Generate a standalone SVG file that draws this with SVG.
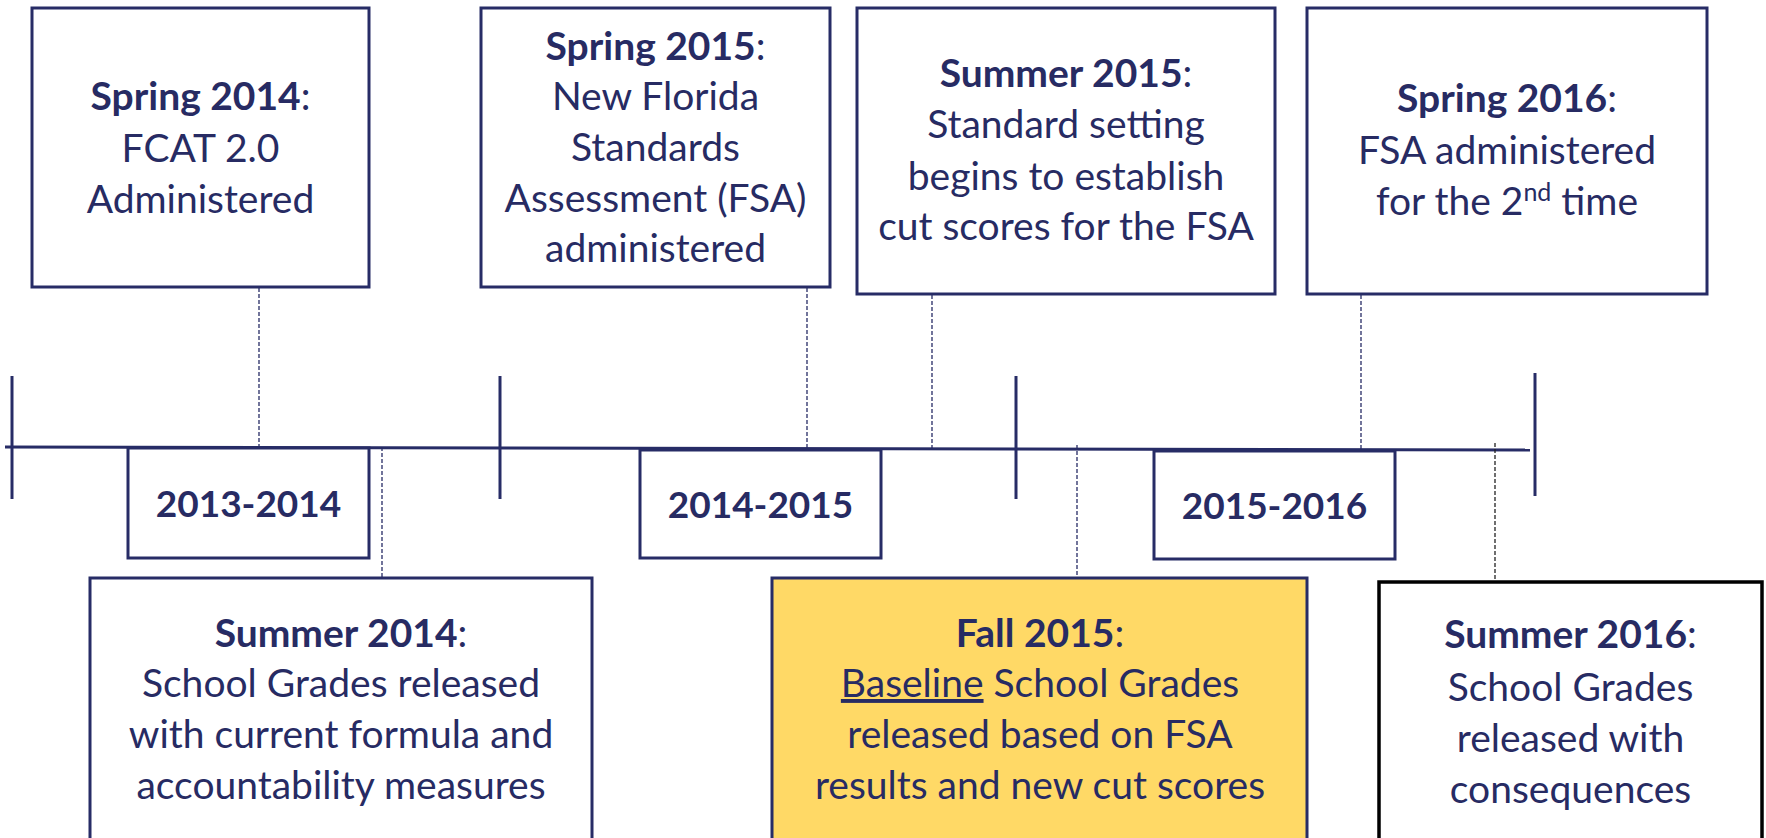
<svg xmlns="http://www.w3.org/2000/svg" width="1766" height="838" viewBox="0 0 1766 838">
  <style>
    .box { fill: #ffffff; stroke: #272c66; stroke-width: 3; }
    .gold { fill: #ffd966; stroke: #272c66; stroke-width: 3; }
    .dark { fill: #ffffff; stroke: #000000; stroke-width: 3.5; }
    .axis { stroke: #272c66; stroke-width: 3; fill: none; }
    .lead { stroke: #272c66; stroke-width: 1.3; stroke-dasharray: 4 2; fill: none; }
    .lead-dark { stroke: #222222; stroke-width: 1.3; stroke-dasharray: 4 2; fill: none; }
    text { font-family: Lato, "Open Sans", "Liberation Sans", sans-serif; font-size: 39px; fill: #272b63; text-anchor: middle; }
    .b { font-weight: bold; }
    .yr { font-weight: bold; font-size: 37px; }
  </style>
  <rect width="1766" height="838" fill="#ffffff"/>

  <!-- timeline axis, year ticks and dashed leaders -->
  <g id="connectors">
    <line class="axis" x1="5" y1="447" x2="1530" y2="450"/>
    <line class="axis" x1="12" y1="376" x2="12" y2="499"/>
    <line class="axis" x1="500" y1="376" x2="500" y2="499"/>
    <line class="axis" x1="1016" y1="376" x2="1016" y2="499"/>
    <line class="axis" x1="1535" y1="373" x2="1535" y2="496"/>
    <line class="lead" x1="259" y1="288" x2="259" y2="447"/>
    <line class="lead" x1="807" y1="288" x2="807" y2="448"/>
    <line class="lead" x1="932" y1="295" x2="932" y2="448"/>
    <line class="lead" x1="1361" y1="295" x2="1361" y2="450"/>
    <line class="lead" x1="382" y1="447" x2="382" y2="578"/>
    <line class="lead" x1="1077" y1="445" x2="1077" y2="578"/>
    <line class="lead-dark" x1="1495" y1="443" x2="1495" y2="582"/>
  </g>

  <g id="spring2014">
    <rect class="box" x="32" y="8" width="337" height="279"/>
    <text x="200.5" y="110"><tspan class="b">Spring 2014</tspan>:</text>
    <text x="200.5" y="162">FCAT 2.0</text>
    <text x="200.5" y="213">Administered</text>
  </g>

  <g id="spring2015">
    <rect class="box" x="481" y="8" width="349" height="279"/>
    <text x="655.5" y="60"><tspan class="b">Spring 2015</tspan>:</text>
    <text x="655.5" y="110">New Florida</text>
    <text x="655.5" y="161">Standards</text>
    <text x="655.5" y="212">Assessment (FSA)</text>
    <text x="655.5" y="262">administered</text>
  </g>

  <g id="summer2015">
    <rect class="box" x="857" y="8" width="418" height="286"/>
    <text x="1066" y="87"><tspan class="b">Summer 2015</tspan>:</text>
    <text x="1066" y="138">Standard setting</text>
    <text x="1066" y="190">begins to establish</text>
    <text x="1066" y="240">cut scores for the FSA</text>
  </g>

  <g id="spring2016">
    <rect class="box" x="1307" y="8" width="400" height="286"/>
    <text x="1507" y="112"><tspan class="b">Spring 2016</tspan>:</text>
    <text x="1507" y="164">FSA administered</text>
    <text x="1507" y="215">for the 2<tspan dy="-14" font-size="25">nd</tspan><tspan dy="14"> time</tspan></text>
  </g>

  <g id="year2013">
    <rect class="box" x="128" y="448" width="241" height="110"/>
    <text class="yr" x="248.5" y="517">2013-2014</text>
  </g>

  <g id="year2014">
    <rect class="box" x="640" y="450" width="241" height="108"/>
    <text class="yr" x="760.5" y="518">2014-2015</text>
  </g>

  <g id="year2015">
    <rect class="box" x="1154" y="451" width="241" height="108"/>
    <text class="yr" x="1274.5" y="519">2015-2016</text>
  </g>

  <g id="summer2014">
    <rect class="box" x="90" y="578" width="502" height="300"/>
    <text x="341" y="647"><tspan class="b">Summer 2014</tspan>:</text>
    <text x="341" y="697">School Grades released</text>
    <text x="341" y="748">with current formula and</text>
    <text x="341" y="799">accountability measures</text>
  </g>

  <g id="fall2015">
    <rect class="gold" x="772" y="578" width="535" height="300"/>
    <text x="1040" y="647"><tspan class="b">Fall 2015</tspan>:</text>
    <text x="1040" y="697"><tspan text-decoration="underline">Baseline</tspan> School Grades</text>
    <text x="1040" y="748">released based on FSA</text>
    <text x="1040" y="799">results and new cut scores</text>
  </g>

  <g id="summer2016">
    <rect class="dark" x="1379" y="582" width="383" height="300"/>
    <text x="1570.5" y="648"><tspan class="b">Summer 2016</tspan>:</text>
    <text x="1570.5" y="701">School Grades</text>
    <text x="1570.5" y="752">released with</text>
    <text x="1570.5" y="803">consequences</text>
  </g>
</svg>
